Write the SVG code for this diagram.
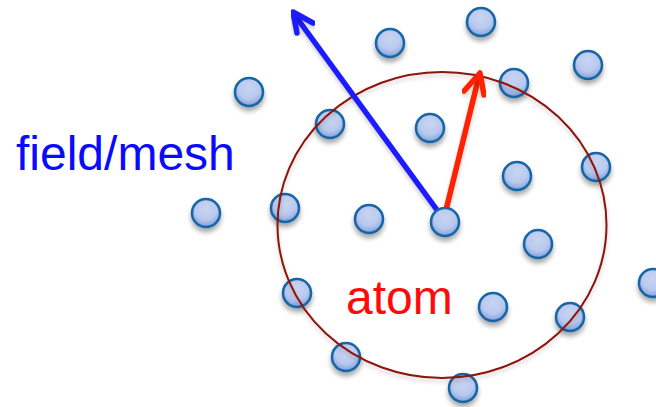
<svg xmlns="http://www.w3.org/2000/svg" width="656" height="407" viewBox="0 0 656 407">
<defs>
<radialGradient id="dotFill" cx="0.5" cy="0.35" r="0.65">
<stop offset="0" stop-color="#c8d5f2"/>
<stop offset="0.6" stop-color="#b9c9ee"/>
<stop offset="0.85" stop-color="#95afe3"/>
<stop offset="1" stop-color="#6f93d6"/>
</radialGradient>
<filter id="shadow" x="-50%" y="-50%" width="200%" height="200%">
<feGaussianBlur in="SourceAlpha" stdDeviation="2.5"/>
<feOffset dx="0" dy="4" result="b"/>
<feComponentTransfer><feFuncA type="linear" slope="0.35"/></feComponentTransfer>
<feMerge><feMergeNode/><feMergeNode in="SourceGraphic"/></feMerge>
</filter>
<filter id="lshadow" x="-10%" y="-10%" width="120%" height="120%">
<feGaussianBlur in="SourceAlpha" stdDeviation="2"/>
<feOffset dx="0" dy="3" result="b"/>
<feComponentTransfer><feFuncA type="linear" slope="0.2"/></feComponentTransfer>
<feMerge><feMergeNode/><feMergeNode in="SourceGraphic"/></feMerge>
</filter>
</defs>
<style>
.dot circle{fill:url(#dotFill);stroke:#1565a6;stroke-width:2.5;filter:url(#shadow)}
.arrow{fill:none;stroke-width:5.5;stroke-linecap:round;stroke-linejoin:round;filter:url(#lshadow)}
.lbl{font-family:"Liberation Sans",Arial,sans-serif;font-size:48px}
</style>
<rect width="656" height="407" fill="#ffffff"/>
<g id="dots">
<g id="p1" class="dot"><circle cx="481" cy="22" r="14"/></g>
<g id="p2" class="dot"><circle cx="390" cy="43" r="14"/></g>
<g id="p3" class="dot"><circle cx="249" cy="92" r="14"/></g>
<g id="p4" class="dot"><circle cx="588" cy="65" r="14"/></g>
<g id="p5" class="dot"><circle cx="514" cy="83" r="14"/></g>
<g id="p6" class="dot"><circle cx="330" cy="124" r="14"/></g>
<g id="p7" class="dot"><circle cx="430" cy="128" r="14"/></g>
<g id="p8" class="dot"><circle cx="596" cy="167" r="14"/></g>
<g id="p9" class="dot"><circle cx="517" cy="176" r="14"/></g>
<g id="p10" class="dot"><circle cx="206" cy="213" r="14"/></g>
<g id="p11" class="dot"><circle cx="285" cy="208" r="14"/></g>
<g id="p12" class="dot"><circle cx="369" cy="219" r="14"/></g>
<g id="p14" class="dot"><circle cx="538" cy="244" r="14"/></g>
<g id="p15" class="dot"><circle cx="297" cy="293" r="14"/></g>
<g id="p16" class="dot"><circle cx="493" cy="307" r="14"/></g>
<g id="p17" class="dot"><circle cx="570" cy="317" r="14"/></g>
<g id="p18" class="dot"><circle cx="653" cy="283" r="14"/></g>
<g id="p19" class="dot"><circle cx="346" cy="357" r="14"/></g>
<g id="p20" class="dot"><circle cx="463" cy="388" r="14"/></g>
</g>
<g id="atom-boundary">
<ellipse cx="442" cy="225" rx="164.5" ry="153" fill="none" stroke="#8f1208" stroke-width="2" filter="url(#lshadow)"/>
</g>
<g id="connectors">
<g id="field-arrow">
<path class="arrow" stroke="#1a1aff" d="M437 210 L294 14"/>
<path class="arrow" stroke="#1a1aff" d="M297 33 L293 12 L313 23"/>
</g>
<g id="atom-arrow">
<path class="arrow" stroke="#ff2200" d="M446 210 L479 76"/>
<path class="arrow" stroke="#ff2200" d="M464 91 L480 73 L484 95"/>
</g>
</g>
<g id="center-atom" class="dot"><circle cx="445" cy="222" r="14"/></g>
<g id="label-field"><text class="lbl" x="16" y="170" fill="#0a0aff">field/mesh</text></g>
<g id="label-atom"><text class="lbl" x="346" y="314" fill="#ff0a0a">atom</text></g>
</svg>
